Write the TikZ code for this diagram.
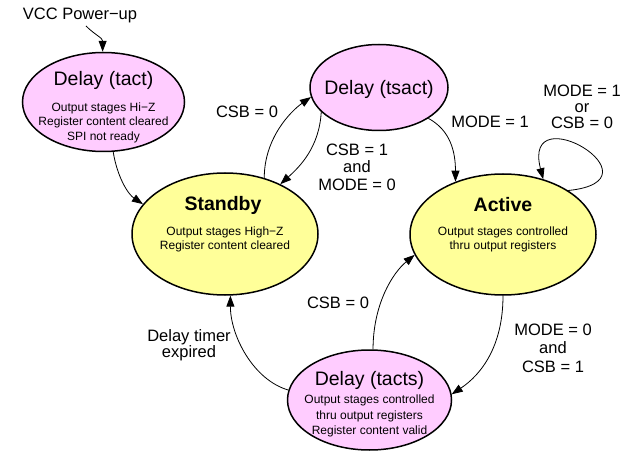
\documentclass[tikz,border=0pt]{standalone}
\usepackage{fontspec}
\setmainfont{Liberation Sans}
\usetikzlibrary{arrows.meta,shapes.geometric}
\definecolor{pinkfill}{HTML}{FFCCFF}
\definecolor{yellowfill}{HTML}{FFFF99}
\begin{document}
\begin{tikzpicture}[x=1pt,y=-1pt,
  state/.style={shape=ellipse,draw=black,line width=1.5pt,inner sep=0pt},
  pinkstate/.style={state,fill=pinkfill},
  yellowstate/.style={state,fill=yellowfill},
  titletext/.style={font=\fontsize{19.5}{22}\selectfont,inner sep=0pt},
  boldtitle/.style={font=\fontsize{19.5}{22}\selectfont\bfseries,inner sep=0pt},
  bodytext/.style={font=\fontsize{12}{14.5}\selectfont,align=center,inner sep=0pt},
  lab/.style={font=\fontsize{16.5}{17.5}\selectfont,align=center,inner sep=0pt},
  conn/.style={draw=black,line width=0.8pt,-{Triangle[length=11pt,width=8pt]}}]
\useasboundingbox (0,0) rectangle (629,457);

% states
\node[pinkstate,minimum width=162pt,minimum height=99pt] (tact) at (103.5,102) {};
\node[pinkstate,minimum width=138pt,minimum height=86pt] (tsact) at (379,87.5) {};
\node[yellowstate,minimum width=186pt,minimum height=122pt] (sb) at (225,234) {};
\node[yellowstate,minimum width=186pt,minimum height=121pt] (act) at (503,234.5) {};
\node[pinkstate,minimum width=164pt,minimum height=100pt] (tacts) at (369.5,400) {};

% state texts
\node[titletext] (tactT) at (103.5,80) {Delay (tact)};
\node[bodytext] (tactB) at (103.5,122.5) {Output stages Hi−Z\\Register content cleared\\SPI not ready};
\node[titletext] (tsactT) at (379,89) {Delay (tsact)};
\node[boldtitle] (sbT) at (223,205) {Standby};
\node[bodytext,font=\fontsize{12}{14}\selectfont] (sbB) at (225,239) {Output stages High−Z\\Register content cleared};
\node[boldtitle] (actT) at (503,205) {Active};
\node[bodytext,font=\fontsize{12}{14}\selectfont] (actB) at (503,239) {Output stages controlled\\thru output registers};
\node[titletext] (tactsT) at (369.5,380) {Delay (tacts)};
\node[bodytext,font=\fontsize{12}{15.7}\selectfont] (tactsB) at (369.5,416) {Output stages controlled\\thru output registers\\Register content valid};

% labels
\node[lab] (vcc) at (80,15) {VCC Power−up};
\coordinate (vccs) at (86,26);
\node[lab] (l1) at (247,112) {CSB = 0};
\node[lab] (l2) at (357,167) {CSB = 1\\and\\MODE = 0};
\node[lab] (l3) at (490,122) {MODE = 1};
\node[lab,font=\fontsize{16.5}{16}\selectfont] (l4) at (582,107) {MODE = 1\\or\\CSB = 0};
\node[lab] (l5) at (338,303) {CSB = 0};
\node[lab,font=\fontsize{16.5}{16}\selectfont] (l6) at (189,345.5) {Delay timer\\expired};
\node[lab,font=\fontsize{16.5}{18.5}\selectfont] (l7) at (553,348) {MODE = 0\\and\\CSB = 1};

% connectors
\draw[conn] (vccs) .. controls +(9,9) and +(0,-14) .. (tact.91);
\draw[conn] (tact.-79) .. controls +(4,25) and +(-15,-10) .. (sb.160);
\draw[conn] (sb.55) .. controls +(0,-40) and +(-20,14) .. (tsact.-172);
\draw[conn] (tsact.-157) .. controls +(-2,35) and +(20,-18) .. (sb.42);
\draw[conn] (tsact.-32) .. controls +(22,12) and +(0,-30) .. (act.132);
\draw[conn] (act.34) .. controls +(98,-10) and +(-22,-85) .. (act.54);
\draw[conn] (tacts.86) .. controls +(0,-45) and +(-22,18) .. (act.-167);
\draw[conn] (tacts.173) .. controls +(-35,-10) and +(0,40) .. (sb.-85);
\draw[conn] (act.-90) .. controls +(0,50) and +(30,-20) .. (tacts.4);
\end{tikzpicture}
\end{document}
